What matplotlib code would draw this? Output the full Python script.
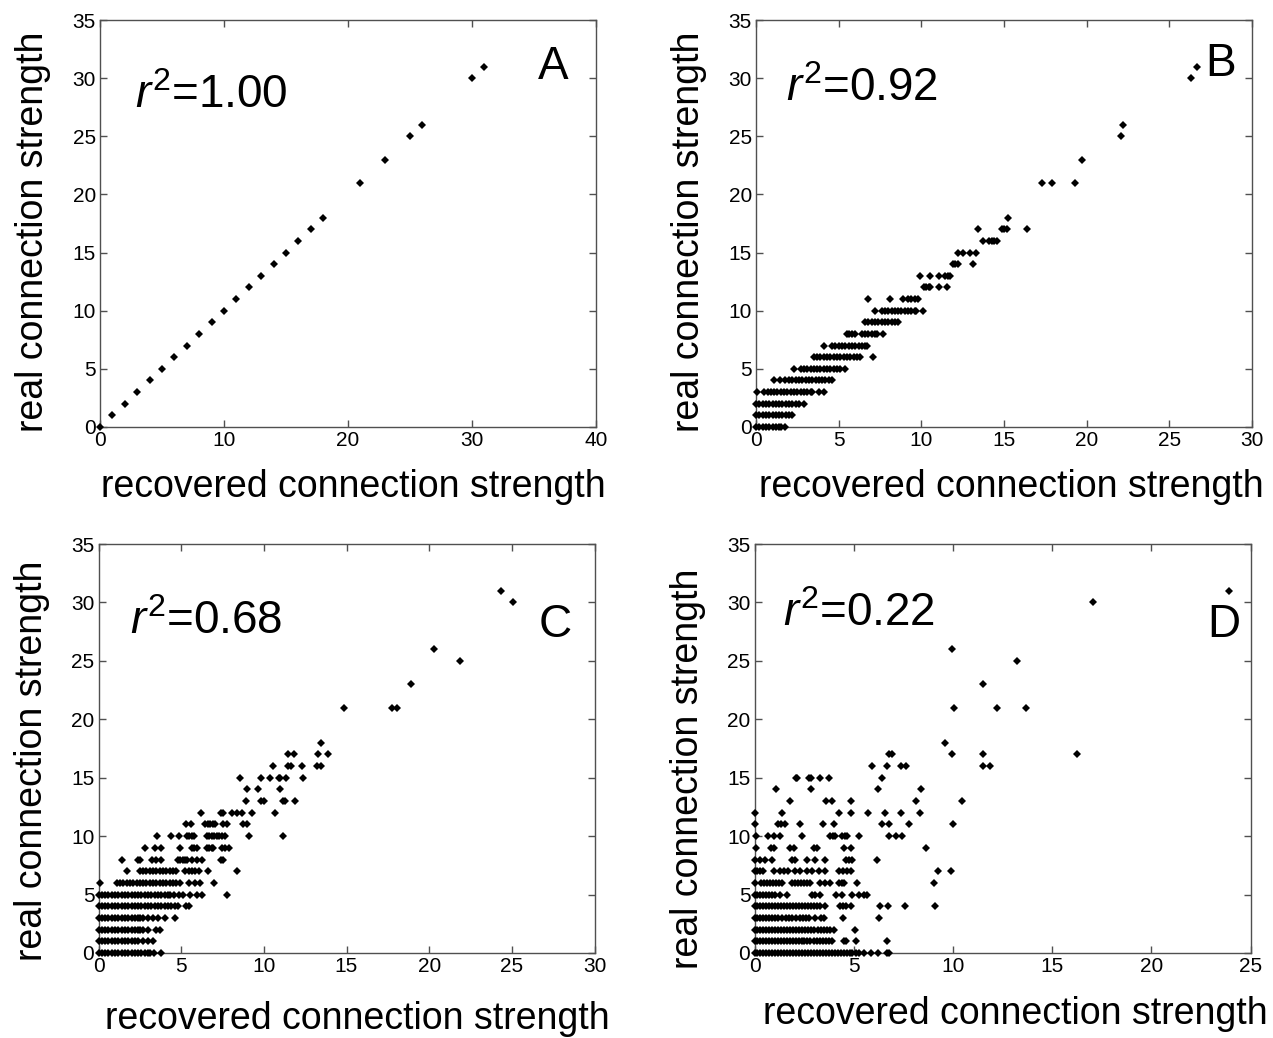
import matplotlib
matplotlib.use("Agg")
import matplotlib.pyplot as plt

plt.rcParams['font.family'] = ['Liberation Sans', 'DejaVu Sans']
plt.rcParams['mathtext.fontset'] = 'custom'
plt.rcParams['mathtext.rm'] = 'Liberation Sans'
plt.rcParams['mathtext.it'] = 'Liberation Sans:italic'

# ---------------- data ----------------
panel_letters = ["A", "B", "C", "D"]
r2_values = ["1.00", "0.92", "0.68", "0.22"]
x_limits = [40, 30, 30, 25]
x_ticks = [[0, 10, 20, 30, 40], [0, 5, 10, 15, 20, 25, 30],
           [0, 5, 10, 15, 20, 25, 30], [0, 5, 10, 15, 20, 25]]
y_ticks = [0, 5, 10, 15, 20, 25, 30, 35]
x_label = "recovered connection strength"
y_label = "real connection strength"

# Panel A: recovered == real
A_recovered = [0, 1, 2, 3, 4, 5, 6, 7, 8, 9, 10, 11, 12, 13, 14, 15, 16, 17, 18, 21, 23, 25, 26, 30, 31]
A_real = [0, 1, 2, 3, 4, 5, 6, 7, 8, 9, 10, 11, 12, 13, 14, 15, 16, 17, 18, 21, 23, 25, 26, 30, 31]

# Panels B-D: recovered values grouped by real (integer) strength
B_by_real = {
    0: [0.0, 0.2, 0.4, 0.6, 0.8, 1.0, 1.2, 1.4, 1.5, 1.75],
    1: [0.0, 0.2, 0.4, 0.6, 0.8, 1.0, 1.2, 1.4, 1.6, 1.8, 2.0, 2.15],
    2: [0.0, 0.2, 0.4, 0.6, 0.8, 1.0, 1.2, 1.4, 1.6, 1.8, 2.0, 2.2, 2.4, 2.6, 2.9],
    3: [0.05, 0.5, 0.7, 0.9, 1.1, 1.3, 1.5, 1.7, 1.9, 2.1, 2.3, 2.5, 2.7, 2.9, 3.1, 3.3, 3.4, 3.8, 4.1],
    4: [1.1, 1.45, 1.75, 2.0, 2.2, 2.4, 2.6, 2.8, 3.0, 3.2, 3.4, 3.6, 3.8, 4.0, 4.2, 4.4, 4.6],
    5: [2.3, 2.7, 2.9, 3.1, 3.3, 3.5, 3.7, 3.9, 4.1, 4.3, 4.5, 4.7, 4.9, 5.1, 5.4],
    6: [3.5, 3.7, 3.9, 4.1, 4.3, 4.5, 4.7, 4.9, 5.1, 5.3, 5.5, 5.7, 5.9, 6.1, 6.3, 7.1],
    7: [4.1, 4.6, 4.8, 5.0, 5.2, 5.4, 5.6, 5.8, 6.0, 6.2, 6.4, 6.6, 6.7],
    8: [5.5, 5.65, 5.8, 6.0, 6.4, 6.6, 6.8, 7.0, 7.2, 7.3, 7.7],
    9: [6.6, 6.8, 7.0, 7.2, 7.4, 7.6, 7.8, 8.0, 8.2, 8.4, 8.6],
    10: [7.2, 7.6, 7.8, 8.0, 8.2, 8.4, 8.6, 8.8, 9.0, 9.2, 9.4, 9.6, 9.7, 10.1],
    11: [6.75, 8.1, 8.9, 9.2, 9.4, 9.6, 9.8],
    12: [10.15, 10.3, 10.45, 10.55, 11.05, 11.55],
    13: [9.9, 10.5, 11.05, 11.45, 11.6, 11.75],
    14: [11.9, 12.05, 12.2, 13.1],
    15: [12.2, 12.55, 12.95, 13.3],
    16: [13.7, 14.1, 14.25, 14.4, 14.6],
    17: [13.45, 14.85, 15.0, 15.2, 16.4],
    18: [15.25],
    21: [17.3, 17.9, 19.3],
    23: [19.7],
    25: [22.05],
    26: [22.2],
    30: [26.3],
    31: [26.7],
}

C_by_real = {
    0: [0.0, 0.2, 0.4, 0.6, 0.8, 1.0, 1.2, 1.4, 1.6, 1.8, 2.0, 2.2, 2.4, 2.6, 2.8, 3.0, 3.1, 3.35, 3.8],
    1: [0.0, 0.2, 0.4, 0.6, 0.8, 1.0, 1.2, 1.4, 1.6, 1.8, 2.0, 2.2, 2.4, 2.7, 3.0, 3.3],
    2: [0.0, 0.2, 0.4, 0.6, 0.8, 1.0, 1.2, 1.4, 1.6, 1.8, 2.0, 2.2, 2.4, 2.5, 2.7, 3.0, 3.5, 3.7],
    3: [0.0, 0.2, 0.4, 0.6, 0.8, 1.0, 1.2, 1.4, 1.6, 1.8, 2.0, 2.2, 2.4, 2.5, 2.7, 3.0, 3.3, 3.6, 4.0, 4.6],
    4: [0.0, 0.2, 0.4, 0.6, 0.8, 1.0, 1.2, 1.4, 1.6, 1.8, 2.0, 2.2, 2.4, 2.6, 2.8, 3.0, 3.2, 3.4, 3.6,
        3.8, 4.0, 4.2, 4.4, 4.6, 4.8, 5.3, 5.5],
    5: [0.0, 0.2, 0.4, 0.6, 0.8, 1.0, 1.2, 1.4, 1.6, 1.8, 2.0, 2.2, 2.4, 2.6, 2.8, 3.0, 3.2, 3.4, 3.6,
        3.8, 4.0, 4.2, 4.35, 4.55, 4.85, 5.1, 5.55, 5.95, 6.25, 7.8],
    6: [0.1, 1.1, 1.3, 1.5, 1.7, 1.9, 2.1, 2.3, 2.5, 2.7, 2.9, 3.1, 3.3, 3.5, 3.7, 3.9, 4.1, 4.3, 4.5,
        4.7, 4.9, 5.45, 5.85, 6.15, 7.0],
    7: [1.75, 2.5, 2.7, 2.9, 3.1, 3.3, 3.5, 3.7, 3.9, 4.1, 4.3, 4.5, 4.7, 5.25, 5.45, 5.65, 5.85, 6.05,
        6.65, 8.35],
    8: [1.45, 2.4, 2.5, 3.25, 3.45, 3.8, 4.8, 4.95, 5.1, 5.25, 5.35, 5.65, 5.95, 6.25, 7.4, 7.55],
    9: [2.8, 3.4, 3.8, 4.9, 5.65, 5.8, 5.95, 6.55, 6.7, 6.85, 6.95, 7.45, 7.65, 7.9],
    10: [3.55, 4.4, 4.85, 5.35, 5.5, 5.65, 5.75, 6.55, 6.7, 6.85, 7.0, 7.15, 7.3, 7.45, 7.65, 9.1, 11.15],
    11: [5.3, 5.6, 6.45, 6.6, 6.75, 6.9, 7.05, 7.55, 7.8, 8.75, 9.0],
    12: [6.2, 7.4, 7.55, 8.1, 8.4, 8.7, 9.3, 10.65],
    13: [8.95, 9.8, 10.0, 11.15, 11.3, 11.9],
    14: [9.0, 9.65, 11.0],
    15: [8.55, 9.8, 10.35, 10.9, 11.0, 11.35, 12.35],
    16: [10.55, 11.45, 11.65, 12.3, 13.2, 13.45],
    17: [11.45, 11.85, 13.3, 13.9],
    18: [13.45],
    21: [14.85, 17.75, 18.05],
    23: [18.9],
    25: [21.85],
    26: [20.3],
    30: [25.05],
    31: [24.35],
}

D_by_real = {
    0: [0.0, 0.15, 0.3, 0.45, 0.6, 0.75, 0.9, 1.05, 1.2, 1.35, 1.5, 1.65, 1.8, 1.95, 2.1, 2.25, 2.4,
        2.55, 2.7, 2.85, 3.0, 3.15, 3.3, 3.45, 3.6, 3.75, 3.9, 4.05, 4.2, 4.35, 4.5, 4.65, 4.8, 4.9,
        5.1, 5.25, 5.5, 5.85, 6.2, 6.7, 6.8],
    1: [0.0, 0.15, 0.3, 0.45, 0.6, 0.75, 0.9, 1.05, 1.2, 1.35, 1.5, 1.65, 1.8, 1.95, 2.1, 2.25, 2.4,
        2.5, 2.65, 2.8, 3.0, 3.15, 3.3, 3.45, 3.6, 3.75, 3.9, 4.5, 4.6, 5.1, 6.7],
    2: [0.0, 0.15, 0.3, 0.45, 0.6, 0.75, 0.9, 1.05, 1.2, 1.35, 1.5, 1.65, 1.8, 1.95, 2.1, 2.25, 2.4,
        2.55, 2.7, 2.85, 3.0, 3.2, 3.35, 3.5, 3.65, 3.8, 4.0, 5.05],
    3: [0.0, 0.15, 0.3, 0.45, 0.6, 0.75, 0.9, 1.05, 1.2, 1.4, 1.6, 1.75, 1.9, 2.1, 2.3, 2.45, 2.6,
        2.75, 3.05, 3.35, 3.5, 4.45, 6.25],
    4: [0.0, 0.15, 0.3, 0.45, 0.6, 0.75, 0.9, 1.05, 1.2, 1.35, 1.5, 1.65, 1.8, 1.95, 2.1, 2.25, 2.4,
        2.55, 2.7, 2.85, 3.0, 3.15, 3.3, 3.55, 4.3, 4.45, 4.6, 4.85, 6.35, 6.75, 7.6, 9.1],
    5: [0.0, 0.15, 0.3, 0.45, 0.6, 0.75, 0.9, 1.05, 1.3, 1.65, 2.9, 3.05, 3.3, 4.1, 4.4, 4.9, 5.25,
        5.5, 5.65],
    6: [0.0, 0.35, 0.5, 0.65, 0.8, 0.95, 1.1, 1.25, 1.4, 1.9, 2.05, 2.2, 2.35, 2.5, 2.65, 2.8, 3.3,
        3.55, 3.8, 4.25, 4.4, 4.5, 5.15, 9.05],
    7: [0.0, 0.15, 0.3, 0.45, 1.0, 1.3, 1.5, 1.7, 2.05, 2.3, 2.65, 2.9, 3.25, 3.55, 4.25, 4.45, 4.65,
        4.85, 9.25, 9.9],
    8: [0.0, 0.3, 0.55, 0.9, 1.9, 2.05, 2.65, 3.05, 3.55, 4.6, 4.75, 4.9, 6.15],
    9: [0.1, 0.85, 1.0, 1.8, 2.0, 3.0, 3.15, 4.5, 4.85, 8.65],
    10: [0.1, 0.7, 1.0, 1.3, 2.4, 3.8, 3.95, 4.05, 4.4, 4.55, 4.65, 5.25, 6.8, 7.15, 7.45],
    11: [0.05, 1.2, 1.35, 1.55, 2.3, 3.45, 4.0, 6.45, 6.8, 7.8, 10.0],
    12: [0.05, 1.4, 4.25, 4.85, 5.7, 6.6, 7.4, 8.35],
    13: [1.8, 3.6, 3.9, 4.85, 8.15, 10.45],
    14: [1.1, 2.85, 6.2, 8.4],
    15: [2.1, 2.15, 2.75, 2.85, 3.3, 3.75, 6.45],
    16: [5.9, 6.7, 7.4, 7.65, 11.5, 11.85],
    17: [6.8, 6.95, 9.95, 11.5, 16.25],
    18: [9.6],
    21: [10.05, 12.2, 13.7],
    23: [11.5],
    25: [13.25],
    26: [9.95],
    30: [17.05],
    31: [23.9],
}


def flatten(by_real):
    xs, ys = [], []
    for real, recs in by_real.items():
        for r in recs:
            xs.append(r)
            ys.append(real)
    return xs, ys


B_recovered, B_real = flatten(B_by_real)
C_recovered, C_real = flatten(C_by_real)
D_recovered, D_real = flatten(D_by_real)

series = [(A_recovered, A_real), (B_recovered, B_real),
          (C_recovered, C_real), (D_recovered, D_real)]

# ---------------- layout ----------------
W, H = 1273, 1038
fig = plt.figure(figsize=(W / 100, H / 100), dpi=100)
fig.patch.set_facecolor('white')

# pixel boxes: left, top, right, bottom
boxes = [(100, 20, 596, 427), (756, 20, 1252, 427),
         (98.5, 544, 594.5, 953), (754.5, 544, 1250.5, 953)]
letter_pos = [(35.3, 29.9), (27.2, 30.2), (26.6, 27.0), (22.8, 27.0)]
r2_pos = [(2.8, 27.4), (1.8, 28.0), (1.9, 27.3), (1.45, 28.0)]
xlabel_y = [-0.102, -0.102, -0.118, -0.105]
xlabel_x = [0.51, 0.515, 0.522, 0.525]
ylabel_y = [0.48, 0.48, 0.47, 0.45]

spine_col = '#505050'
for i, (l, t, r, b) in enumerate(boxes):
    ax = fig.add_axes([l / W, (H - b) / H, (r - l) / W, (b - t) / H])
    xs, ys = series[i]
    ax.plot(xs, ys, linestyle='none', marker='D', ms=4.2, color='black',
            markeredgewidth=0, clip_on=False, zorder=3)
    ax.set_xlim(0, x_limits[i])
    ax.set_ylim(0, 35)
    ax.set_xticks(x_ticks[i])
    ax.set_yticks(y_ticks)
    ax.tick_params(direction='in', length=5, width=1, color=spine_col,
                   top=True, right=True, labelsize=15, pad=3)
    for s in ax.spines.values():
        s.set_color(spine_col)
        s.set_linewidth(1.0)
    ax.set_xlabel(x_label, fontsize=27)
    ax.set_ylabel(y_label, fontsize=27)
    ax.xaxis.set_label_coords(xlabel_x[i], xlabel_y[i])
    ax.yaxis.set_label_coords(-0.098, ylabel_y[i])
    lx, ly = letter_pos[i]
    ax.text(lx, ly, panel_letters[i], fontsize=33, ha='left', va='baseline')
    rx, ry = r2_pos[i]
    ax.text(rx, ry, r'$\mathit{r}^{\mathrm{2}}$=' + r2_values[i], fontsize=33,
            ha='left', va='baseline')

fig.savefig('out.png', dpi=100, facecolor='white')
